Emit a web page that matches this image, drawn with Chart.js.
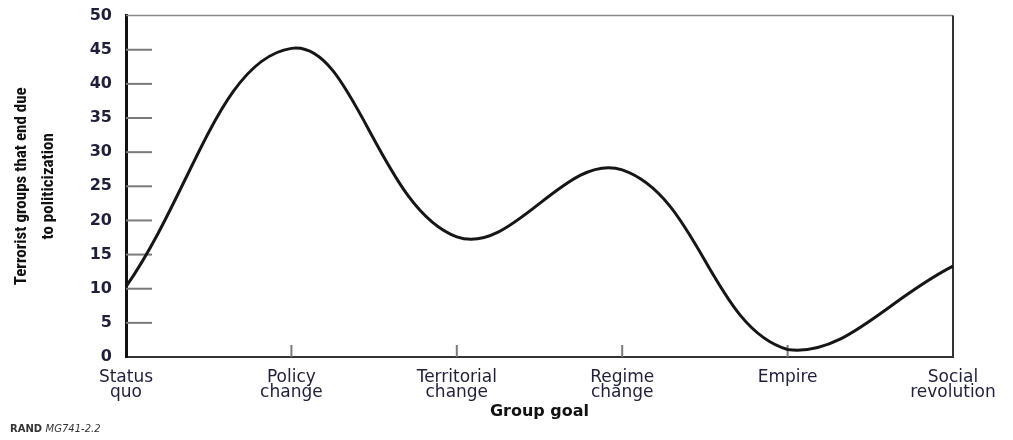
<!DOCTYPE html>
<html>
<head>
<meta charset="utf-8">
<script src="https://cdn.jsdelivr.net/npm/chart.js@4"></script>
<style>
  html, body { margin: 0; padding: 0; background: #fff; }
  #wrap { width: 1013px; height: 440px; }
</style>
</head>
<body>
<div id="wrap"><canvas id="goal-chart"></canvas></div>
<script>
// Data
const goalLabels = [['Status', 'quo'], ['Policy', 'change'], ['Territorial', 'change'], ['Regime', 'change'], ['Empire'], ['Social', 'revolution']];
const groupsEnded = [10.3, 45.2, 17.6, 27.4, 1.1, 13.3];
const yMin = 0;
const yMax = 50;
const yStep = 5;

// Short tick marks drawn inside the plot + top/right frame
const frameTicks = {
    id: 'frameTicks',
    beforeDatasetsDraw(chart) {
        const ctx = chart.ctx;
        const area = chart.chartArea;
        const x = chart.scales.x;
        const y = chart.scales.y;
        ctx.save();
        ctx.strokeStyle = '#7a7a7a';
        ctx.lineWidth = 2;
        for (let v = yMin + yStep; v < yMax; v += yStep) {
            const py = y.getPixelForValue(v);
            ctx.beginPath();
            ctx.moveTo(area.left, py);
            ctx.lineTo(area.left + 26, py);
            ctx.stroke();
        }
        for (let i = 1; i < goalLabels.length - 1; i++) {
            const px = x.getPixelForValue(i);
            ctx.beginPath();
            ctx.moveTo(px, area.bottom);
            ctx.lineTo(px, area.bottom - 12);
            ctx.stroke();
        }
        // top edge
        ctx.strokeStyle = '#8a8a8a';
        ctx.lineWidth = 1.5;
        ctx.beginPath();
        ctx.moveTo(area.left, area.top);
        ctx.lineTo(area.right, area.top);
        ctx.stroke();
        // right edge
        ctx.strokeStyle = '#333';
        ctx.lineWidth = 2;
        ctx.beginPath();
        ctx.moveTo(area.right, area.top);
        ctx.lineTo(area.right, area.bottom);
        ctx.stroke();
        ctx.restore();
    },
    afterDraw(chart) {
        const ctx = chart.ctx;
        ctx.save();
        ctx.fillStyle = '#333';
        ctx.textBaseline = 'middle';
        ctx.font = 'bold 10px "DejaVu Sans"';
        ctx.fillText('RAND', 10, 429);
        const w = ctx.measureText('RAND ').width;
        ctx.font = 'italic 10px "DejaVu Sans"';
        ctx.fillText('MG741-2.2', 10 + w, 429);
        ctx.restore();
    }
};

const ctx = document.getElementById('goal-chart').getContext('2d');

new Chart(ctx, {
    type: 'line',
    data: {
        labels: goalLabels,
        datasets: [{
            data: groupsEnded,
            borderColor: '#161616',
            borderWidth: 3,
            pointRadius: 0,
            tension: 0.4,
            fill: false
        }]
    },
    options: {
        responsive: true,
        maintainAspectRatio: false,
        animation: false,
        layout: {
            padding: { left: 0, right: 60, top: 1, bottom: 15 }
        },
        plugins: {
            legend: { display: false },
            tooltip: { enabled: false }
        },
        scales: {
            x: {
                type: 'category',
                offset: false,
                grid: { display: false },
                border: { display: true, color: '#333', width: 2 },
                ticks: {
                    color: '#1f1f3a',
                    font: { family: '"DejaVu Sans"', size: 17, lineHeight: 0.9 },
                    padding: 5,
                    maxRotation: 0,
                    autoSkip: false
                },
                title: {
                    display: true,
                    text: 'Group goal',
                    color: '#111',
                    font: { family: '"DejaVu Sans"', size: 16, weight: 'bold' },
                    padding: { top: 4, bottom: 4 }
                },
                afterFit(scale) { scale.height = 68; }
            },
            y: {
                min: yMin,
                max: yMax,
                grid: { display: false },
                border: { display: true, color: '#111', width: 3 },
                ticks: {
                    stepSize: yStep,
                    color: '#1f1f3a',
                    font: { family: '"DejaVu Sans"', size: 16, weight: 'bold' },
                    padding: 6
                },
                title: {
                    display: true,
                    text: ['Terrorist groups that end due', 'to politicization'],
                    color: '#111',
                    font: { family: '"Liberation Sans Narrow", "Roboto Condensed", Roboto', size: 17, weight: 'bold', lineHeight: 1.6 },
                    padding: { top: 8, bottom: 0 }
                },
                afterFit(scale) { scale.width = 126; }
            }
        }
    },
    plugins: [frameTicks]
});
</script>
</body>
</html>
